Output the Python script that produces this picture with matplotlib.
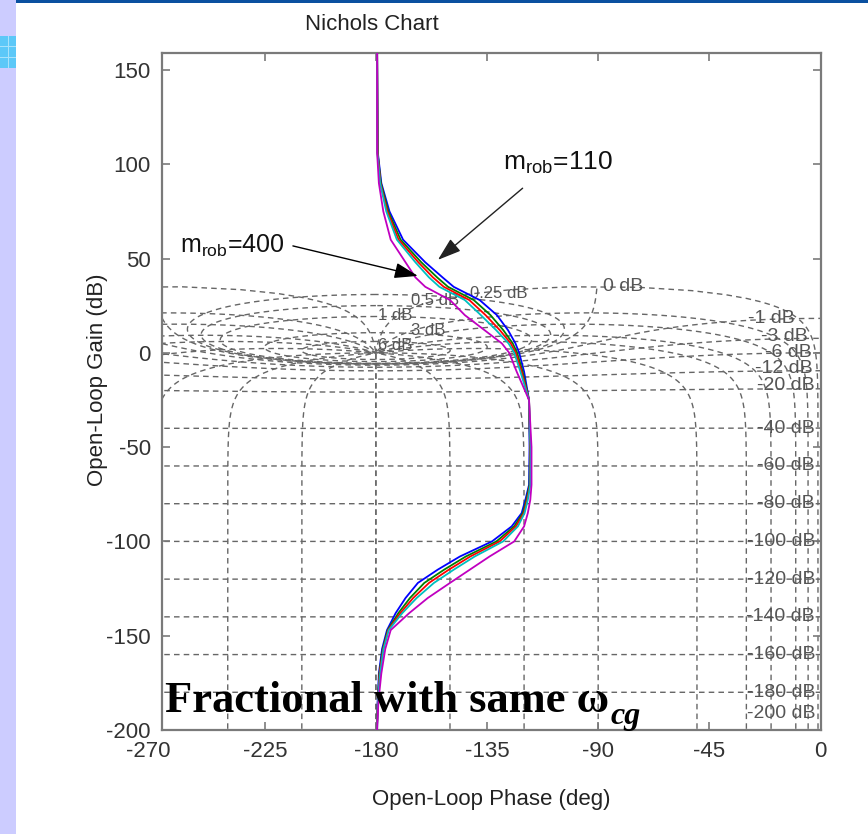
import numpy as np
import matplotlib
matplotlib.use('Agg')
import matplotlib.pyplot as plt
from matplotlib.patches import Rectangle
from matplotlib.transforms import offset_copy

plt.rcParams['font.family'] = ['Liberation Sans', 'DejaVu Sans']
plt.rcParams['mathtext.fontset'] = 'custom'
plt.rcParams['mathtext.rm'] = 'Liberation Sans'
plt.rcParams['mathtext.it'] = 'Liberation Sans:italic'

# ---------------- data ----------------
gain_db = [159, 106, 90, 75, 60, 48, 40, 35, 28, 20, 12, 5, 0, -10, -25, -50, -70, -78, -85, -92,
           -100, -108, -115, -122, -130, -138, -147, -157, -170, -185, -200]
phase_blue = [-179.5, -179.2, -177.8, -174.5, -169, -160, -153, -148.5, -138, -131, -126.5, -123.5, -122, -120,
              -118, -117.8, -118, -119.5, -121, -125, -133, -146, -155, -163, -168, -172, -175.5, -177.5,
              -178.8, -179.3, -179.6]
phase_green = [-179.5, -179.3, -178.0, -175.0, -170, -161.6, -155.2, -150.8, -140.4, -133.6, -128.4, -124.6, -122.8,
               -120.6, -118, -117.6, -117.8, -119.1, -120.5, -124, -131.2, -143.6, -152.4, -160.4, -166.2, -170.9,
               -175.2, -177.2, -178.6, -179.2, -179.6]
phase_red = [-179.5, -179.3, -178.2, -175.4, -170.8, -162.8, -156.9, -152.5, -142.2, -135.6, -129.8, -125.4, -123.4,
             -121, -118, -117.5, -117.6, -118.8, -120.1, -123.3, -129.9, -141.8, -150.5, -158.5, -164.9, -170.1,
             -175, -177, -178.5, -179.2, -179.6]
phase_cyan = [-179.5, -179.4, -178.3, -175.8, -171.5, -164, -158.5, -154.3, -144, -137.5, -131.3, -126.3, -124,
              -121.5, -118, -117.4, -117.5, -118.5, -119.8, -122.5, -128.5, -140, -148.5, -156.5, -163.5, -169.3,
              -174.8, -176.9, -178.3, -179.2, -179.5]
phase_magenta = [-179.5, -179.5, -178.8, -177, -174, -168, -164, -160, -150, -144, -136, -129, -126, -123, -118,
                 -117, -117, -117.5, -118.5, -120, -124, -134, -142, -150, -159, -166.5, -174, -176.2, -177.8,
                 -179, -179.5]
series = [phase_blue, phase_green, phase_red, phase_cyan, phase_magenta]
series_colors = ['#0000ff', '#008000', '#ff0000', '#00bfbf', '#c000c0']

# Nichols grid levels
cl_mag_levels_db = [6, 3, 1, 0.5, 0.25, 0, -1, -3, -6, -12, -20, -40, -60, -80, -100, -120, -140, -160, -180, -200]
cl_phase_levels_deg = [-1, -5, -10, -20, -30, -50, -90, -120, -150, -180]

# grid labels: text, phase, gain, alignment, size
grid_labels = ['0.25 dB', '0.5 dB', '1 dB', '3 dB', '6 dB', '0 dB', '-1 dB', '-3 dB', '-6 dB', '-12 dB', '-20 dB',
               '-40 dB', '-60 dB', '-80 dB', '-100 dB', '-120 dB', '-140 dB', '-160 dB', '-180 dB', '-200 dB']
grid_label_phase = [-142, -156, -172, -159, -172, -80, -10.3, -5, -3.4, -3, -2.2,
                    -2.2, -2.2, -2.2, -2.2, -2.2, -2.2, -2.2, -2.2, -2.2]
grid_label_gain = [31.5, 28, 20, 12, 4, 35, 18.3, 8.5, 0, -8.5, -17.5,
                   -40, -60, -80, -100, -120, -140, -160, -180, -191]
grid_label_ha = ['left', 'center', 'center', 'center', 'center', 'center'] + ['right'] * 14
grid_label_size = [12, 12, 12, 12, 12, 14] + [14] * 14

xtick_vals = [-270, -225, -180, -135, -90, -45, 0]
ytick_vals = [-200, -150, -100, -50, 0, 50, 100, 150]

# ---------------- figure ----------------
W, H = 868, 834
fig = plt.figure(figsize=(W / 100, H / 100), dpi=100)
fig.patch.set_facecolor('white')

# slide decorations
fig.add_artist(Rectangle((0, 0), 16 / W, 1, transform=fig.transFigure, facecolor='#ccccff', edgecolor='none'))
fig.add_artist(Rectangle((0, 1 - 68 / H), 16 / W, 32 / H, transform=fig.transFigure, facecolor='#5cc8f8',
                         edgecolor='none'))
for yy in (47, 58):
    fig.add_artist(Rectangle((0, 1 - yy / H), 16 / W, 1 / H, transform=fig.transFigure, facecolor='#a8e2fb',
                             edgecolor='none'))
fig.add_artist(Rectangle((8 / W, 1 - 68 / H), 1 / W, 32 / H, transform=fig.transFigure, facecolor='#a8e2fb',
                         edgecolor='none'))
fig.add_artist(Rectangle((16 / W, 1 - 3 / H), 1 - 16 / W, 3 / H, transform=fig.transFigure, facecolor='#0a50a0',
                         edgecolor='none'))

left_px, right_px, top_px, bot_px = 162, 820.5, 53, 730
ax = fig.add_axes([left_px / W, 1 - bot_px / H, (right_px - left_px) / W, (bot_px - top_px) / H])
ax.set_xlim(-(right_px - left_px) / 2.47, 0)
ax.set_ylim(-200, 159)

grid_kw = dict(color='#666666', lw=1.0, linestyle=(0, (4, 3)), zorder=1)


def broken(ph, g):
    ph = np.asarray(ph, float)
    g = np.asarray(g, float)
    jump = np.where(np.abs(np.diff(ph)) > 90)[0]
    ph = np.insert(ph, jump + 1, np.nan)
    g = np.insert(g, jump + 1, np.nan)
    return ph, g


# magnitude contours
for mdb in cl_mag_levels_db:
    M = 10 ** (mdb / 20)
    if mdb == 0:
        th = np.linspace(0.018, 2 * np.pi - 0.018, 4001)
    else:
        th = np.linspace(0, 2 * np.pi, 4001)
    T = M * np.exp(1j * th)
    G = T / (1 - T)
    ph = np.degrees(np.angle(G))
    ph = np.where(ph > 0, ph - 360, ph)
    gg = 20 * np.log10(np.abs(G))
    p, q = broken(ph, gg)
    ax.plot(p, q, **grid_kw)

# closed-loop phase contours
r = np.logspace(-11, 4, 4000)
for pdeg in cl_phase_levels_deg:
    T = r * np.exp(1j * np.radians(pdeg))
    G = T / (1 - T)
    ph = np.degrees(np.angle(G))
    ph = np.where(ph > 0, ph - 360, ph)
    gg = 20 * np.log10(np.abs(G))
    p, q = broken(ph, gg)
    ax.plot(p, q, **grid_kw)
    ax.plot(-360 - p, q, **grid_kw)

for txt, px, py, ha, fs in zip(grid_labels, grid_label_phase, grid_label_gain, grid_label_ha, grid_label_size):
    ax.text(px, py, txt, ha=ha, va='center', fontsize=fs, color='#555555', zorder=2)

# the frequency responses
for ph, col in zip(series, series_colors):
    ax.plot(ph, gain_db, color=col, lw=1.3, zorder=3)

# annotations
ax.annotate('', xy=(-163, 40.8), xytext=(-213.6, 56.7),
            arrowprops=dict(arrowstyle='-|>,head_length=0.9,head_width=0.3', color='black', lw=1.0,
                            mutation_scale=16, shrinkA=0, shrinkB=0), zorder=5)
ax.annotate('', xy=(-154.9, 49.3), xytext=(-120.6, 87.3),
            arrowprops=dict(arrowstyle='-|>,head_length=0.9,head_width=0.3', color='#222222', lw=1.0,
                            mutation_scale=16, shrinkA=0, shrinkB=0), zorder=5)
ax.text(-259.3, 53.0, r'm$_{\mathrm{rob}}$=400', fontsize=18, va='baseline', ha='left', color='#111111', zorder=6)
ax.text(-128.5, 97.0, r'm$_{\mathrm{rob}}$=110', fontsize=19, va='baseline', ha='left', color='#111111', zorder=6)

# axes styling
for s in ax.spines.values():
    s.set_color('#7a7a7a')
    s.set_linewidth(1.6)
ax.set_xticks(xtick_vals[1:])
ax.set_xticklabels([str(v) for v in xtick_vals[1:]])
ax.set_yticks(ytick_vals)
ax.set_yticklabels([str(v) for v in ytick_vals])
ax.tick_params(direction='in', length=6, width=1.2, color='#7a7a7a', top=True, right=True,
               labelsize=16, labelcolor='#333333', pad=8)
ax.text(xtick_vals[0], -200, str(xtick_vals[0]), ha='center', va='top', fontsize=16, color='#333333',
        clip_on=False, transform=offset_copy(ax.transData, fig=fig, x=-4, y=-8, units='points'))

fig.text(372 / W, 1 - 25 / H, 'Nichols Chart', ha='center', va='center', fontsize=16, color='#222222')
fig.text(491 / W, 1 - 800 / H, 'Open-Loop Phase (deg)', ha='center', va='center', fontsize=16, color='#222222')
fig.text(97 / W, 1 - 380 / H, 'Open-Loop Gain (dB)', ha='center', va='center', rotation=90, fontsize=16,
         color='#222222')

big = fig.text(165 / W, 1 - 712 / H, 'Fractional with same \u03c9', ha='left', va='baseline', fontsize=32,
               fontweight='bold', family=['Liberation Serif', 'DejaVu Serif'], color='black', zorder=10)
fig.canvas.draw()
bb = big.get_window_extent(fig.canvas.get_renderer())
fig.text(bb.x1 / W + 1 / W, 1 - 724 / H, 'cg', ha='left', va='baseline', fontsize=23, fontweight='bold',
         fontstyle='italic', family=['Liberation Serif', 'DejaVu Serif'], color='black', zorder=10)

fig.savefig('out.png', dpi=100, facecolor='white')
